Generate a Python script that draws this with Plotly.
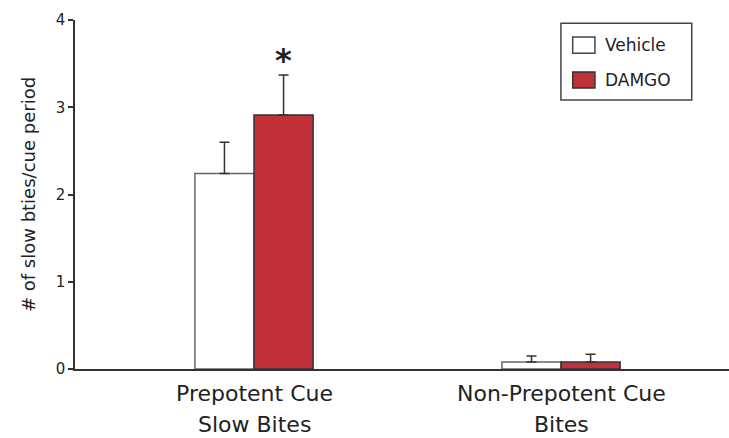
import plotly.graph_objects as go

categories = ["Prepotent Cue<br>Slow Bites", "Non-Prepotent Cue<br>Bites"]
series_names = ["Vehicle", "DAMGO"]
vehicle_mean = [2.24, 0.08]
vehicle_sem = [0.36, 0.07]
damgo_mean = [2.91, 0.08]
damgo_sem = [0.46, 0.09]
y_ticks = [0, 1, 2, 3, 4]

FONT = "DejaVu Sans"
TEXT = "#222222"
RED = "#C1313A"

x_pos = list(range(len(categories)))

fig = go.Figure()
fig.add_trace(go.Bar(
    name=series_names[0], x=x_pos, y=vehicle_mean,
    marker=dict(color="white", line=dict(color="#666666", width=1.5)),
    error_y=dict(type="data", array=vehicle_sem, arrayminus=[0] * len(vehicle_sem),
                 symmetric=False, color="#333333", thickness=1.5, width=5),
))
fig.add_trace(go.Bar(
    name=series_names[1], x=x_pos, y=damgo_mean,
    marker=dict(color=RED, line=dict(color="#333333", width=1.5)),
    error_y=dict(type="data", array=damgo_sem, arrayminus=[0] * len(damgo_sem),
                 symmetric=False, color="#333333", thickness=1.5, width=5),
))

# significance marker above the DAMGO bar of the first group
fig.add_annotation(x=0.096, y=damgo_mean[0] + damgo_sem[0] + 0.17, text="<b>*</b>",
                   showarrow=False, yanchor="middle",
                   font=dict(size=32, color=TEXT, family=FONT))

# two-line category labels under the axis
for i, label in enumerate(categories):
    for j, line in enumerate(label.split("<br>")):
        fig.add_annotation(x=i, xref="x", y=0, yref="paper", text=line,
                           showarrow=False, yanchor="top", xanchor="center",
                           yshift=-10 - 31 * j,
                           font=dict(size=22, color=TEXT, family=FONT))

# legend box with swatches
fig.add_shape(type="rect", xref="paper", yref="paper", x0=0.743, x1=0.943,
              y0=0.771, y1=0.991, line=dict(color="#444444", width=1.5),
              fillcolor="white", layer="above")
swatches = [("white", "#444444", 0.928), (RED, "#333333", 0.828)]
for name, (fill, edge, yc) in zip(series_names, swatches):
    fig.add_shape(type="rect", xref="paper", yref="paper", x0=0.761, x1=0.795,
                  y0=yc - 0.023, y1=yc + 0.023, line=dict(color=edge, width=1.5),
                  fillcolor=fill, layer="above")
    fig.add_annotation(xref="paper", yref="paper", x=0.807, y=yc, text=name,
                       showarrow=False, xanchor="left", yanchor="middle",
                       font=dict(size=17, color=TEXT, family=FONT))

fig.update_layout(
    width=729, height=438,
    margin=dict(l=75, r=0, t=20, b=69),
    paper_bgcolor="white", plot_bgcolor="white",
    barmode="group", bargap=0.615, bargroupgap=0,
    font=dict(family=FONT, color=TEXT),
    showlegend=False,
    xaxis=dict(range=[-0.583, 1.547], tickvals=x_pos, showticklabels=False,
               showline=True, linecolor="#333333", linewidth=1.5,
               ticks="", showgrid=False, zeroline=False),
    yaxis=dict(range=[0, 4], tickmode="array", tickvals=y_ticks,
               showline=True, linecolor="#333333", linewidth=1.5,
               ticks="outside", ticklen=5, tickcolor="#333333", tickwidth=1.5,
               showgrid=False, zeroline=False,
               tickfont=dict(size=15, family=FONT, color=TEXT),
               title=dict(text="# of slow bties/cue period", standoff=15,
                          font=dict(size=18, family=FONT, color=TEXT))),
)

fig.write_html("out.html")
